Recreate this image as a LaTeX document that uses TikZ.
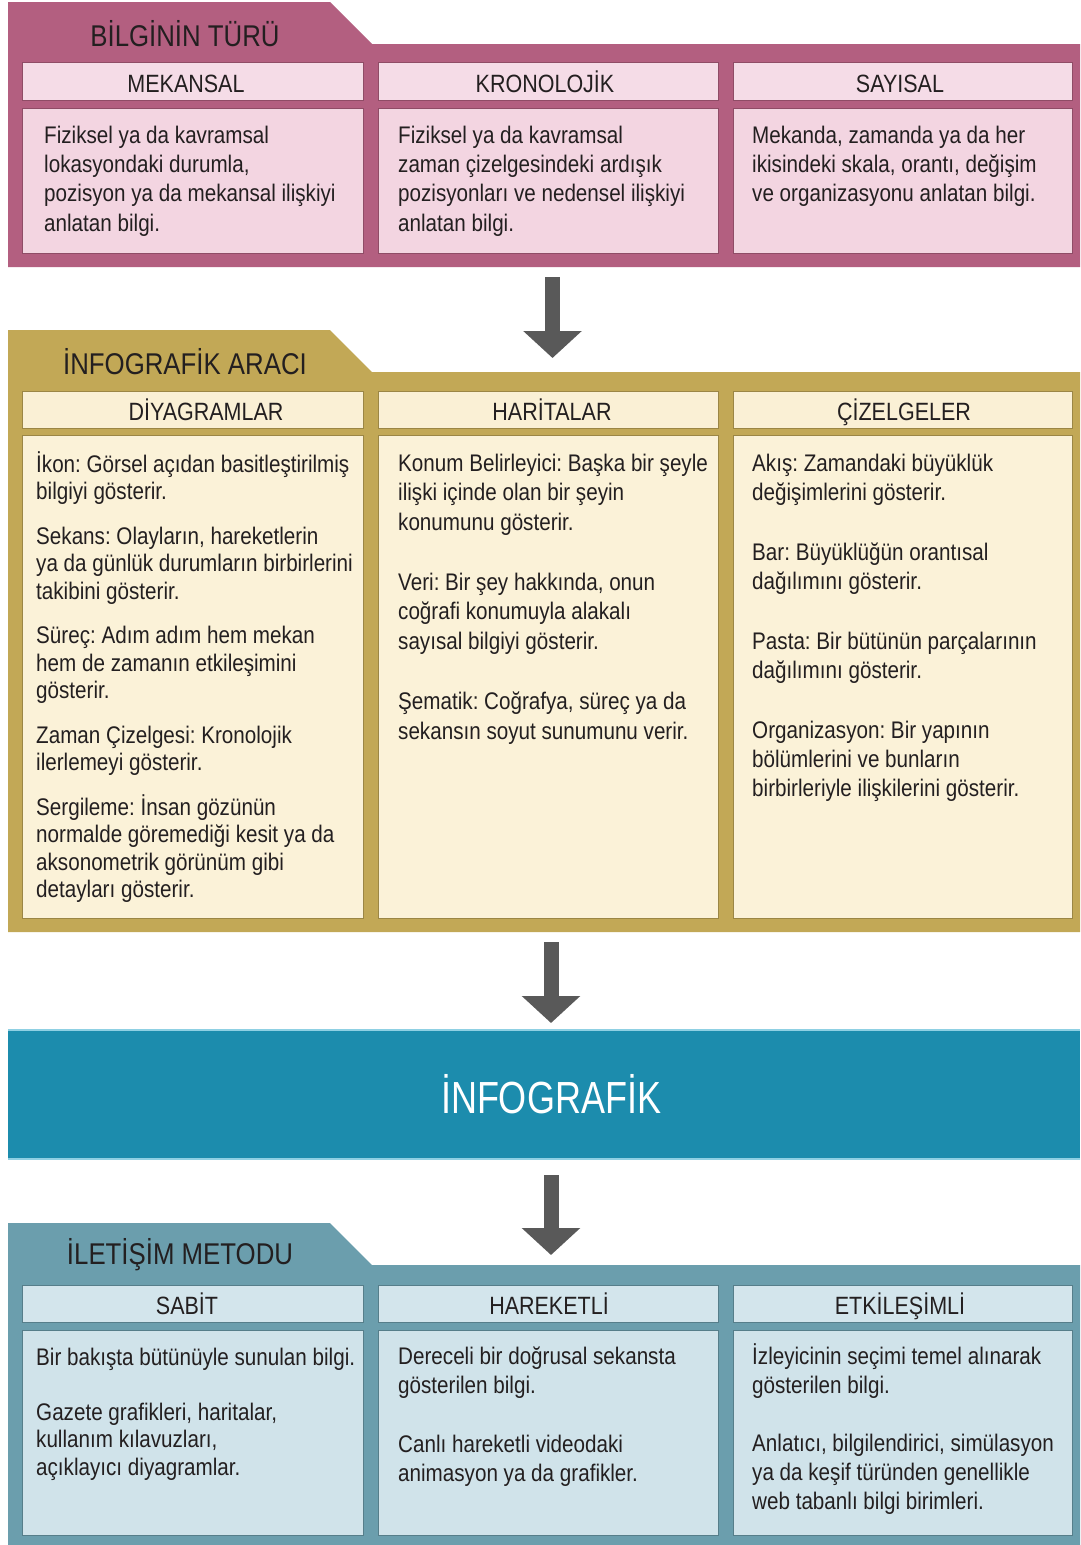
\documentclass[tikz,border=0pt]{standalone}
\usepackage{fontspec}
\setmainfont{Liberation Sans}[FakeStretch=0.86]
\newfontfamily\bigfont{Liberation Sans}[FakeStretch=0.80]
\usetikzlibrary{arrows.meta}
\frenchspacing
\definecolor{txt}{HTML}{231F20}
\definecolor{pinkframe}{HTML}{B35F80}
\definecolor{pinkfill}{HTML}{F3D5E1}
\definecolor{pinkhdr}{HTML}{F5DCE7}
\definecolor{goldframe}{HTML}{C2A856}
\definecolor{goldfill}{HTML}{FBF2D8}
\definecolor{goldhdr}{HTML}{FAF0D5}
\definecolor{bandcol}{HTML}{1C8CAD}
\definecolor{bandedge}{HTML}{8FD0E3}
\definecolor{grayframe}{HTML}{6B9EAD}
\definecolor{grayfill}{HTML}{D0E3EA}
\definecolor{grayhdr}{HTML}{D3E5EC}
\definecolor{arrowgray}{HTML}{595959}
\newcommand\fs{\rule{0pt}{24pt}}
\tikzset{
  body/.style={anchor=north west, inner sep=0pt, align=left, text=txt,
    font=\fontsize{24}{29.3}\selectfont},
  hdrtext/.style={anchor=base, inner sep=0pt, text=txt, font=\fontsize{25}{30}\selectfont},
  sectitle/.style={anchor=base, inner sep=0pt, text=txt, font=\fontsize{30}{36}\selectfont},
  flow/.style={draw=arrowgray, line width=15pt, -{Triangle[width=57pt,length=27pt]}},
  boxedge/.style={line width=1pt},
}
\begin{document}
\begin{tikzpicture}[x=1pt,y=-1pt]
\useasboundingbox (0,0) rectangle (1080,1545);
\fill[white] (0,0) rectangle (1080,1545);

% ---------------- Section 1: BİLGİNİN TÜRÜ ----------------
\fill[pinkframe] (8,2) -- (330,2) -- (372,44) -- (1080,44) -- (1080,267) -- (8,267) -- cycle;
\foreach \xa/\xb in {22/363,378/718,733/1072}{
  \filldraw[fill=pinkhdr, draw=pinkframe!80!black, boxedge] (\xa,62) rectangle (\xb,100);
  \filldraw[fill=pinkfill, draw=pinkframe!80!black, boxedge] (\xa,108) rectangle (\xb,253);
}
\node[sectitle] (t1) at (185,46) {BİLGİNİN TÜRÜ};
\node[hdrtext] (h11) at (186,92) {MEKANSAL};
\node[hdrtext] (h12) at (545,92) {KRONOLOJİK};
\node[hdrtext] (h13) at (900,92) {SAYISAL};
\node[body] (b11) at (44,119) {\fs Fiziksel ya da kavramsal\\lokasyondaki durumla,\\pozisyon ya da mekansal ilişkiyi\\anlatan bilgi.};
\node[body] (b12) at (398,119) {\fs Fiziksel ya da kavramsal\\zaman çizelgesindeki ardışık\\pozisyonları ve nedensel ilişkiyi\\anlatan bilgi.};
\node[body] (b13) at (752,119) {\fs Mekanda, zamanda ya da her\\ikisindeki skala, orantı, değişim\\ve organizasyonu anlatan bilgi.};

% ---------------- Section 2: İNFOGRAFİK ARACI ----------------
\fill[goldframe] (8,330) -- (330,330) -- (372,372) -- (1080,372) -- (1080,932) -- (8,932) -- cycle;
\foreach \xa/\xb in {22/363,378/718,733/1072}{
  \filldraw[fill=goldhdr, draw=goldframe!80!black, boxedge] (\xa,391) rectangle (\xb,428);
  \filldraw[fill=goldfill, draw=goldframe!80!black, boxedge] (\xa,435) rectangle (\xb,918);
}
\node[sectitle] (t2) at (185,374) {İNFOGRAFİK ARACI};
\node[hdrtext] (h21) at (206,420) {DİYAGRAMLAR};
\node[hdrtext] (h22) at (552,420) {HARİTALAR};
\node[hdrtext] (h23) at (904,420) {ÇİZELGELER};
\node[body, font=\fontsize{24}{27.5}\selectfont] (b21) at (36,448) {\fs İkon: Görsel açıdan basitleştirilmiş\\bilgiyi gösterir.\\[17pt]Sekans: Olayların, hareketlerin\\ya da günlük durumların birbirlerini\\takibini gösterir.\\[17pt]Süreç: Adım adım hem mekan\\hem de zamanın etkileşimini\\gösterir.\\[17pt]Zaman Çizelgesi: Kronolojik\\ilerlemeyi gösterir.\\[17pt]Sergileme: İnsan gözünün\\normalde göremediği kesit ya da\\aksonometrik görünüm gibi\\detayları gösterir.};
\node[body, font=\fontsize{24}{29.4}\selectfont] (b22) at (398,447) {\fs Konum Belirleyici: Başka bir şeyle\\ilişki içinde olan bir şeyin\\konumunu gösterir.\\[31pt]Veri: Bir şey hakkında, onun\\coğrafi konumuyla alakalı\\sayısal bilgiyi gösterir.\\[31pt]Şematik: Coğrafya, süreç ya da\\sekansın soyut sunumunu verir.};
\node[body, font=\fontsize{24}{29}\selectfont] (b23) at (752,447) {\fs Akış: Zamandaki büyüklük\\değişimlerini gösterir.\\[31pt]Bar: Büyüklüğün orantısal\\dağılımını gösterir.\\[31pt]Pasta: Bir bütünün parçalarının\\dağılımını gösterir.\\[31pt]Organizasyon: Bir yapının\\bölümlerini ve bunların\\birbirleriyle ilişkilerini gösterir.};

% ---------------- Section 3: İNFOGRAFİK band ----------------
\node[fill=bandcol, minimum width=1072pt, minimum height=129pt, inner sep=0pt] (info) at (544,1094.5) {};
\draw[bandedge, line width=1.5pt] (info.north west) -- (info.north east);
\draw[bandedge, line width=1.5pt] (info.south west) -- (info.south east);
\node[anchor=base, inner sep=0pt, text=white, font=\bigfont\fontsize{45}{50}\selectfont] (infotext) at (551,1113) {İNFOGRAFİK};

% ---------------- Section 4: İLETİŞİM METODU ----------------
\fill[grayframe] (8,1223) -- (330,1223) -- (372,1265) -- (1080,1265) -- (1080,1545) -- (8,1545) -- cycle;
\foreach \xa/\xb in {22/363,378/718,733/1072}{
  \filldraw[fill=grayhdr, draw=grayframe!80!black, boxedge] (\xa,1285) rectangle (\xb,1322);
  \filldraw[fill=grayfill, draw=grayframe!80!black, boxedge] (\xa,1330) rectangle (\xb,1535);
}
\node[sectitle] (t4) at (180,1264) {İLETİŞİM METODU};
\node[hdrtext] (h41) at (187,1314) {SABİT};
\node[hdrtext] (h42) at (549,1314) {HAREKETLİ};
\node[hdrtext] (h43) at (900,1314) {ETKİLEŞİMLİ};
\node[body, font=\fontsize{24}{27.5}\selectfont] (b41) at (36,1341) {\fs Bir bakışta bütünüyle sunulan bilgi.\\[27.5pt]Gazete grafikleri, haritalar,\\kullanım kılavuzları,\\açıklayıcı diyagramlar.};
\node[body, font=\fontsize{24}{29.5}\selectfont] (b42) at (398,1340) {\fs Dereceli bir doğrusal sekansta\\gösterilen bilgi.\\[29pt]Canlı hareketli videodaki\\animasyon ya da grafikler.};
\node[body, font=\fontsize{24}{29}\selectfont] (b43) at (752,1340) {\fs İzleyicinin seçimi temel alınarak\\gösterilen bilgi.\\[29pt]Anlatıcı, bilgilendirici, simülasyon\\ya da keşif türünden genellikle\\web tabanlı bilgi birimleri.};

% ---------------- Arrows ----------------
\coordinate (s1out) at (552.5,277);
\coordinate (s2in) at (552.5,358);
\coordinate (s2out) at (551,942);
\coordinate (s3in) at (551,1023);
\coordinate (s3out) at (551,1175);
\coordinate (s4in) at (551,1255);
\draw[flow] (s1out) -- (s2in);
\draw[flow] (s2out) -- (s3in);
\draw[flow] (s3out) -- (s4in);
\end{tikzpicture}
\end{document}
